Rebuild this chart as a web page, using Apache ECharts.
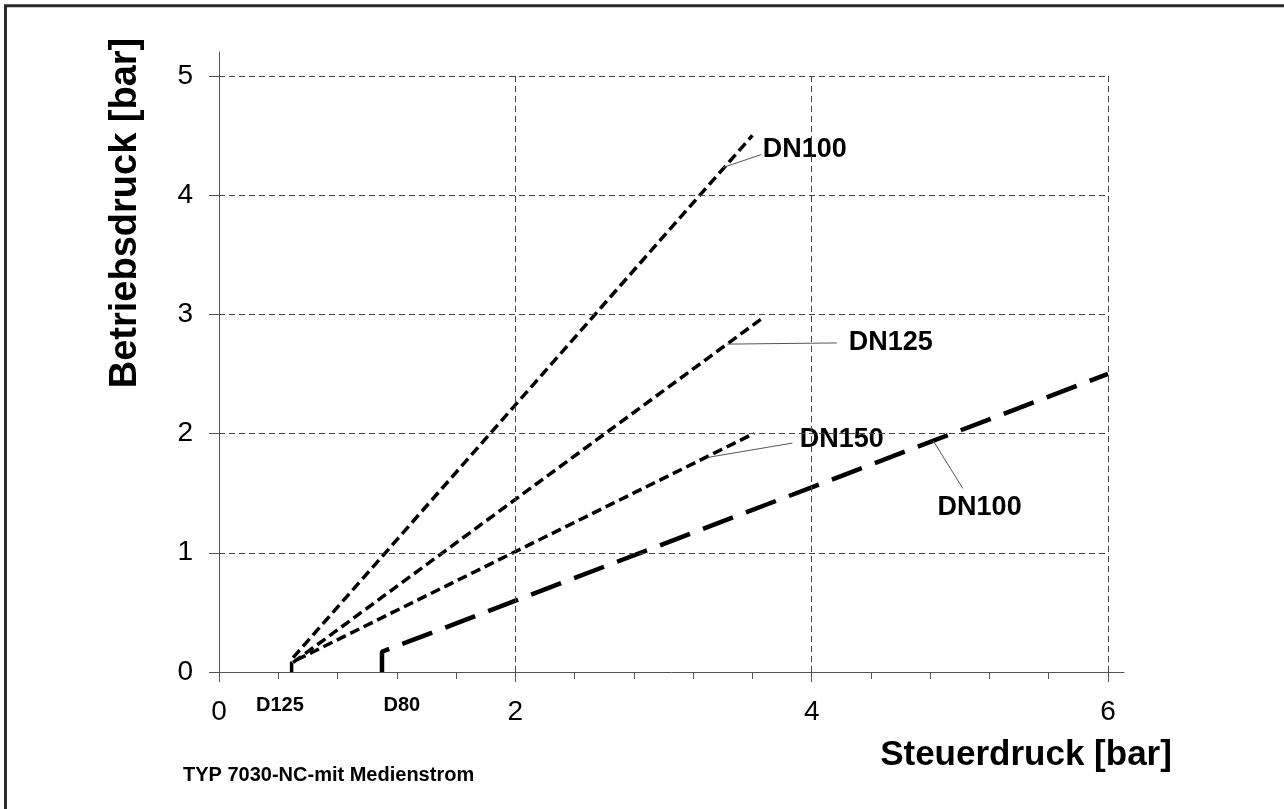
<!DOCTYPE html>
<html>
<head>
<meta charset="utf-8">
<script src="https://cdn.jsdelivr.net/npm/echarts@6/dist/echarts.min.js"></script>
<style>
	html, body { margin: 0; padding: 0; background: #fff; }
	#chart { width: 1284px; height: 809px; }
</style>
</head>
<body>
<div id="chart"></div>
<script>
	// Kennlinien (x = Steuerdruck, y = Betriebsdruck)
	var dn100Short = [[0.5, 0.12], [3.6, 4.5]];
	var dn125 = [[0.5, 0.08], [3.67, 2.97]];
	var dn150 = [[0.49, 0], [0.49, 0.08], [3.61, 2.0]];
	var dn100Long = [[1.1, 0], [1.1, 0.17], [6.0, 2.5]];

	// Beschriftungen der Kurven und Hinweislinien
	var curveNames = ['DN100', 'DN125', 'DN150', 'DN100'];
	var curveLabelPos = [[3.67, 4.38], [4.25, 2.76], [3.92, 1.95], [4.85, 1.38]];
	var leaderFrom = [[3.40, 4.23], [3.43, 2.75], [3.30, 1.80], [4.82, 1.94]];
	var leaderTo = [[3.66, 4.34], [4.17, 2.76], [3.87, 1.92], [5.02, 1.54]];

	// Nennweiten unter der x-Achse
	var axisNotes = ['D125', 'D80'];
	var axisNotePos = [[0.25, -0.28], [1.11, -0.28]];

	// Achsen
	var xLabels = [0, 2, 4, 6];
	var xMinor = [0, 0.4, 0.8, 1.2, 1.6, 2, 2.4, 2.8, 3.2, 3.6, 4, 4.4, 4.8, 5.2, 5.6, 6];
	var yLabels = [0, 1, 2, 3, 4, 5];
	var xMax = 6.108, yMax = 5.2;

	var font = '"Liberation Sans", Arial, sans-serif';
	var gridColor = '#444';

	var gridLines = [];
	xLabels.slice(1).forEach(function (v) {
		gridLines.push([{ coord: [v, 0] }, { coord: [v, 5] }]);
	});
	yLabels.slice(1).forEach(function (v) {
		gridLines.push([{ coord: [0, v] }, { coord: [6, v] }]);
	});

	var leaders = [];
	for (var i = 0; i < leaderFrom.length; i++) {
		leaders.push([{ coord: leaderFrom[i] }, { coord: leaderTo[i] }]);
	}

	var labelData = [];
	for (var j = 0; j < curveNames.length; j++) {
		labelData.push({ value: curveLabelPos[j], name: curveNames[j] });
	}
	var noteData = [];
	for (var k = 0; k < axisNotes.length; k++) {
		noteData.push({ value: axisNotePos[k], name: axisNotes[k] });
	}

	function curve(data, dash, width, offset) {
		return {
			type: 'line',
			data: data,
			symbol: 'none',
			silent: true,
			clip: false,
			lineStyle: { color: '#000', width: width, type: dash, dashOffset: offset || 0, cap: 'butt' }
		};
	}

	function textSeries(data, size) {
		return {
			type: 'scatter', data: data, symbolSize: 0, clip: false, silent: true,
			itemStyle: { opacity: 1 },
			label: {
				show: true, position: 'right', distance: 0, opacity: 1,
				formatter: '{b}', color: '#000',
				fontSize: size, fontWeight: 'bold', fontFamily: font
			}
		};
	}

	var myChart = echarts.init(document.getElementById('chart'), null, { renderer: 'canvas' });
	var option = {
		animation: false,
		backgroundColor: '#fff',
		grid: { left: 219, top: 52, width: 905, height: 620 },
		xAxis: [
			{
				type: 'value', min: 0, max: xMax,
				axisLine: { lineStyle: { color: '#555', width: 1 } },
				axisTick: { show: true, length: 7, customValues: xMinor, lineStyle: { color: '#555' } },
				axisLabel: {
					customValues: xLabels, margin: 26,
					color: '#000', fontSize: 28, fontFamily: font
				},
				splitLine: { show: false }
			},
			{
				type: 'value', min: 0, max: xMax, position: 'bottom',
				axisLine: { show: false },
				axisTick: { show: true, length: 10, customValues: xLabels, lineStyle: { color: '#555' } },
				axisLabel: { show: false },
				splitLine: { show: false }
			}
		],
		yAxis: {
			type: 'value', min: 0, max: yMax,
			axisLine: { show: true, lineStyle: { color: '#555', width: 1 } },
			axisTick: { show: true, length: 10, customValues: yLabels, lineStyle: { color: '#555' } },
			axisLabel: {
				customValues: yLabels, margin: 26,
				color: '#000', fontSize: 28, fontFamily: font
			},
			splitLine: { show: false }
		},
		series: [
			{
				type: 'line', data: [], silent: true,
				markLine: {
					silent: true, symbol: 'none', label: { show: false },
					lineStyle: { color: gridColor, width: 1, type: [6, 4] },
					data: gridLines
				}
			},
			{
				type: 'line', data: [], silent: true,
				markLine: {
					silent: true, symbol: 'none', label: { show: false },
					lineStyle: { color: '#555', width: 1, type: 'solid' },
					data: leaders
				}
			},
			curve(dn100Short, [10, 5], 3.5),
			curve(dn125, [10, 5], 3.5),
			curve(dn150, [10, 5], 3.5),
			curve(dn100Long, [32, 14], 4.5, 4),
			textSeries(labelData, 27),
			textSeries(noteData, 20)
		],
		graphic: [
			{
				type: 'rect', silent: true,
				shape: { x: 5.5, y: 5.8, width: 2000, height: 2000 },
				style: { fill: 'none', stroke: '#2a2a2a', lineWidth: 3 }
			},
			{
				type: 'text', silent: true,
				x: 126, y: 213, rotation: Math.PI / 2,
				style: {
					text: 'Betriebsdruck [bar]', fill: '#000',
					font: 'bold 38px ' + font, align: 'center', verticalAlign: 'middle'
				}
			},
			{
				type: 'text', silent: true,
				x: 1026, y: 755,
				style: {
					text: 'Steuerdruck [bar]', fill: '#000',
					font: 'bold 35px ' + font, align: 'center', verticalAlign: 'middle'
				}
			},
			{
				type: 'text', silent: true,
				x: 183, y: 775,
				style: {
					text: 'TYP 7030-NC-mit Medienstrom', fill: '#000',
					font: 'bold 20px ' + font, align: 'left', verticalAlign: 'middle'
				}
			}
		]
	};
	myChart.setOption(option);
</script>
</body>
</html>
